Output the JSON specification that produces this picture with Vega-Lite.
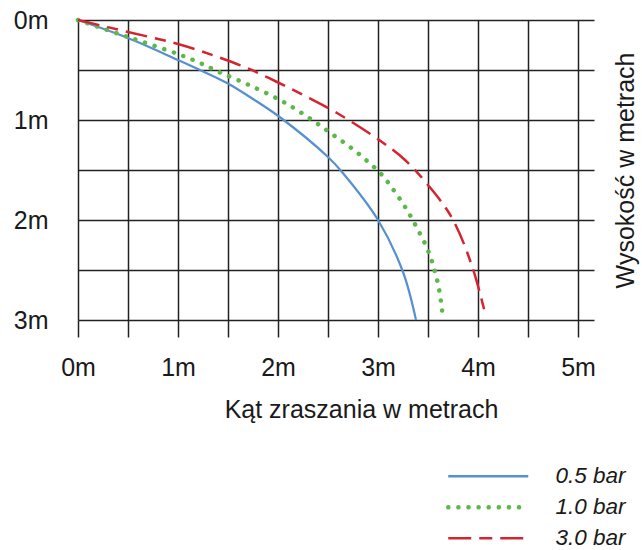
{
  "$schema": "https://vega.github.io/schema/vega-lite/v6.json",
  "width": 516,
  "height": 300,
  "autosize": {"type": "none"},
  "padding": {"left": 78, "top": 20, "right": 48, "bottom": 230},
  "config": {
    "view": {"stroke": null},
    "font": "Liberation Sans",
    "axis": {"labelFont": "Liberation Sans", "titleFont": "Liberation Sans"},
    "legend": {"labelFont": "Liberation Sans"}
  },
  "data": {
    "values": [
      {"series": "0.5 bar", "x": 0, "y": 0},
      {"series": "0.5 bar", "x": 0.5, "y": 0.18},
      {"series": "0.5 bar", "x": 1.0, "y": 0.40},
      {"series": "0.5 bar", "x": 1.22, "y": 0.50},
      {"series": "0.5 bar", "x": 1.49, "y": 0.63},
      {"series": "0.5 bar", "x": 1.75, "y": 0.79},
      {"series": "0.5 bar", "x": 2.03, "y": 0.98},
      {"series": "0.5 bar", "x": 2.5, "y": 1.37},
      {"series": "0.5 bar", "x": 2.64, "y": 1.52},
      {"series": "0.5 bar", "x": 3.0, "y": 2.0},
      {"series": "0.5 bar", "x": 3.25, "y": 2.52},
      {"series": "0.5 bar", "x": 3.38, "y": 3.0},
      {"series": "1.0 bar", "x": 0, "y": 0},
      {"series": "1.0 bar", "x": 0.5, "y": 0.17},
      {"series": "1.0 bar", "x": 1.0, "y": 0.34},
      {"series": "1.0 bar", "x": 1.22, "y": 0.43},
      {"series": "1.0 bar", "x": 1.41, "y": 0.52},
      {"series": "1.0 bar", "x": 1.71, "y": 0.65},
      {"series": "1.0 bar", "x": 2.0, "y": 0.79},
      {"series": "1.0 bar", "x": 2.19, "y": 0.90},
      {"series": "1.0 bar", "x": 2.37, "y": 1.02},
      {"series": "1.0 bar", "x": 2.54, "y": 1.14},
      {"series": "1.0 bar", "x": 2.72, "y": 1.27},
      {"series": "1.0 bar", "x": 2.88, "y": 1.40},
      {"series": "1.0 bar", "x": 3.04, "y": 1.55},
      {"series": "1.0 bar", "x": 3.17, "y": 1.72},
      {"series": "1.0 bar", "x": 3.29, "y": 1.90},
      {"series": "1.0 bar", "x": 3.39, "y": 2.08},
      {"series": "1.0 bar", "x": 3.49, "y": 2.28},
      {"series": "1.0 bar", "x": 3.56, "y": 2.48},
      {"series": "1.0 bar", "x": 3.61, "y": 2.69},
      {"series": "1.0 bar", "x": 3.64, "y": 2.9},
      {"series": "1.0 bar", "x": 3.65, "y": 3.0},
      {"series": "3.0 bar", "x": 0, "y": 0},
      {"series": "3.0 bar", "x": 0.5, "y": 0.12},
      {"series": "3.0 bar", "x": 1.0, "y": 0.24},
      {"series": "3.0 bar", "x": 1.4, "y": 0.37},
      {"series": "3.0 bar", "x": 1.69, "y": 0.48},
      {"series": "3.0 bar", "x": 1.99, "y": 0.62},
      {"series": "3.0 bar", "x": 2.29, "y": 0.77},
      {"series": "3.0 bar", "x": 2.59, "y": 0.93},
      {"series": "3.0 bar", "x": 3.04, "y": 1.22},
      {"series": "3.0 bar", "x": 3.27, "y": 1.40},
      {"series": "3.0 bar", "x": 3.5, "y": 1.65},
      {"series": "3.0 bar", "x": 3.74, "y": 1.98},
      {"series": "3.0 bar", "x": 3.94, "y": 2.46},
      {"series": "3.0 bar", "x": 4.08, "y": 2.97}
    ]
  },
  "layer": [
    {
      "encoding": {
        "x": {
          "field": "x",
          "type": "quantitative",
          "scale": {"domain": [0, 5.16], "nice": false, "zero": false},
          "axis": {
            "values": [0, 0.5, 1, 1.5, 2, 2.5, 3, 3.5, 4, 4.5, 5],
            "labelExpr": "datum.value % 1 === 0 ? datum.value + 'm' : ''",
            "grid": true,
            "gridColor": "#222222",
            "gridWidth": 1.5,
            "gridOpacity": 1,
            "domain": false,
            "ticks": true,
            "tickColor": "#222222",
            "tickWidth": 1.5,
            "tickSize": 17,
            "labelFontSize": 25,
            "labelColor": "#1a1a1a",
            "labelBaseline": "alphabetic",
            "labelPadding": 38,
            "labelFlush": false,
            "labelOverlap": false,
            "title": "Kąt zraszania w metrach",
            "titleFontSize": 25,
            "titleFontWeight": "normal",
            "titleColor": "#1a1a1a",
            "titleBaseline": "alphabetic",
            "titleAlign": "center",
            "titleX": 283,
            "titleY": 97
          }
        },
        "y": {
          "field": "y",
          "type": "quantitative",
          "scale": {"domain": [0, 3], "reverse": true, "nice": false, "zero": false},
          "axis": {
            "orient": "left",
            "values": [0, 0.5, 1, 1.5, 2, 2.5, 3],
            "labelExpr": "datum.value % 1 === 0 ? datum.value + 'm' : ''",
            "grid": true,
            "gridColor": "#222222",
            "gridWidth": 1.5,
            "gridOpacity": 1,
            "domain": false,
            "ticks": false,
            "tickSize": 0,
            "labelFontSize": 25,
            "labelColor": "#1a1a1a",
            "labelPadding": 30,
            "labelFlush": false,
            "labelOverlap": false,
            "title": null
          }
        },
        "color": {
          "field": "series",
          "type": "nominal",
          "scale": {
            "domain": ["0.5 bar", "1.0 bar", "3.0 bar"],
            "range": ["#5590d0", "#5cb848", "#d42430"]
          },
          "legend": {
            "orient": "none",
            "legendX": 399,
            "legendY": 445,
            "title": null,
            "padding": 0,
            "symbolType": "stroke",
            "symbolSize": 6400,
            "symbolStrokeWidth": 2.2,
            "labelFontSize": 22.5,
            "labelFontStyle": "italic",
            "labelColor": "#1a1a1a",
            "labelOffset": 56,
            "rowPadding": 8,
            "encode": {
              "symbols": {
                "update": {
                  "strokeCap": {"signal": "datum.value === '1.0 bar' ? 'round' : 'butt'"},
                  "strokeWidth": {"signal": "datum.value === '1.0 bar' ? 4.5 : 2.5"},
                  "strokeDash": {"signal": "datum.value === '1.0 bar' ? [0.1, 10] : datum.value === '3.0 bar' ? [23, 8, 13, 8] : [1, 0]"}
                }
              }
            }
          }
        }
      },
      "layer": [
        {
          "transform": [{"filter": "datum.series === '0.5 bar'"}],
          "mark": {"type": "line", "interpolate": "catmull-rom", "strokeWidth": 2.2}
        },
        {
          "transform": [{"filter": "datum.series === '1.0 bar'"}],
          "mark": {"type": "line", "interpolate": "catmull-rom", "strokeWidth": 4.5, "strokeCap": "round", "strokeDash": [0.1, 10]}
        },
        {
          "transform": [{"filter": "datum.series === '3.0 bar'"}],
          "mark": {"type": "line", "interpolate": "catmull-rom", "strokeWidth": 2.5, "strokeDash": [22, 8, 11, 8]}
        }
      ]
    },
    {
      "mark": {"type": "point", "opacity": 0},
      "encoding": {
        "x": {"field": "x", "type": "quantitative"},
        "y": {
          "field": "y",
          "type": "quantitative",
          "axis": {
            "orient": "right",
            "labels": false,
            "ticks": false,
            "domain": false,
            "grid": false,
            "title": "Wysokość w metrach",
            "titleFontSize": 25,
            "titleFontWeight": "normal",
            "titleColor": "#1a1a1a",
            "titleAngle": 270,
            "titleBaseline": "alphabetic",
            "titlePadding": 39
          }
        }
      }
    }
  ],
  "resolve": {"axis": {"y": "independent"}}
}
